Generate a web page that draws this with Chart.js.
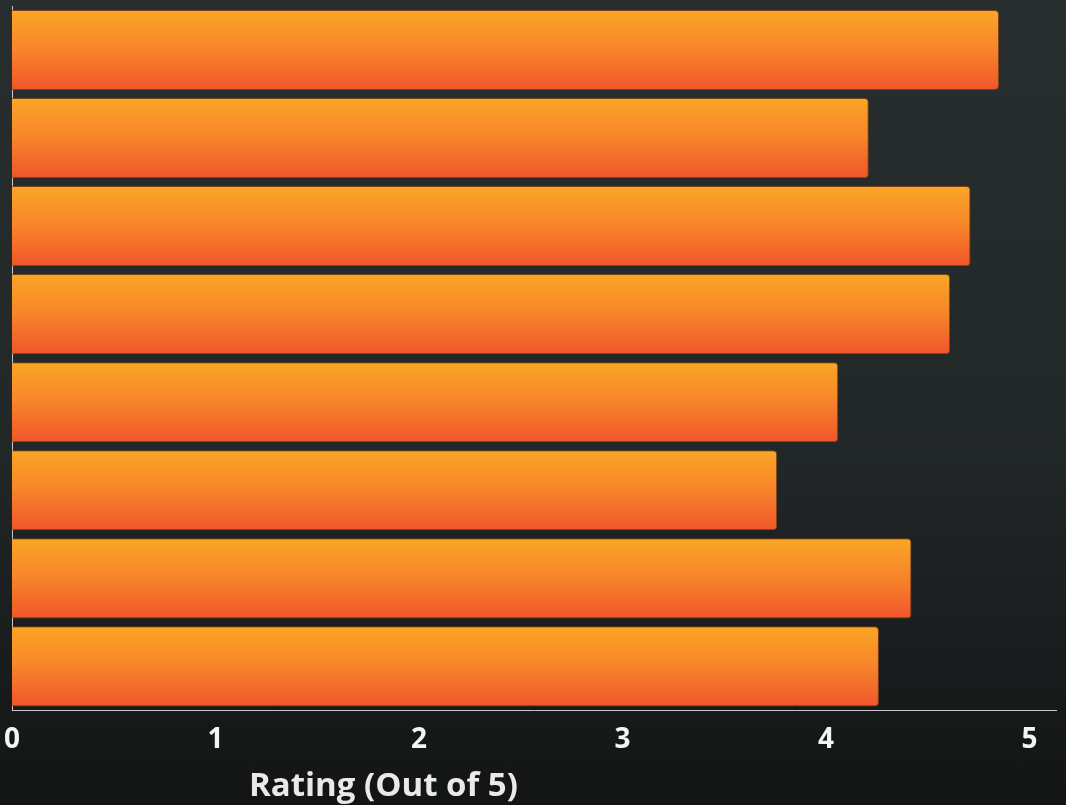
<!DOCTYPE html>
<html>
<head>
<meta charset="utf-8">
<script src="https://cdn.jsdelivr.net/npm/chart.js@4.4.1/dist/chart.umd.min.js"></script>
<style>
  html, body { margin: 0; padding: 0; width: 1066px; height: 805px; overflow: hidden;
    background: linear-gradient(to bottom, #282d2d 0%, #222727 55%, #131515 100%); }
  #wrap { position: relative; width: 1066px; height: 805px; }
  canvas { display: block; }
</style>
</head>
<body>
<div id="wrap"><canvas id="c" width="1066" height="805"></canvas></div>
<script>
const categories = ["Item 1", "Item 2", "Item 3", "Item 4", "Item 5", "Item 6", "Item 7", "Item 8"];
const ratings = [4.85, 4.21, 4.71, 4.61, 4.06, 3.76, 4.42, 4.26];
const xTickValues = [0, 1, 2, 3, 4, 5];
const xAxisTitle = "Rating (Out of 5)";

const BAR_FRACTION = 0.91;

function barGradient(context) {
  const chart = context.chart;
  const yScale = chart.scales.y;
  if (!yScale || !chart.chartArea) return '#f7812a';
  const band = (yScale.bottom - yScale.top) / categories.length;
  const center = yScale.getPixelForValue(context.dataIndex);
  const half = band * BAR_FRACTION / 2;
  const g = chart.ctx.createLinearGradient(0, center - half, 0, center + half);
  g.addColorStop(0, '#fba626');
  g.addColorStop(0.5, '#f7842a');
  g.addColorStop(1, '#f0552b');
  return g;
}

const axisTitlePlugin = {
  id: 'axisTitleLeft',
  afterDraw(chart) {
    const ctx = chart.ctx;
    ctx.save();
    ctx.font = '700 33px "Open Sans"';
    ctx.fillStyle = '#e9e9e9';
    ctx.textAlign = 'left';
    ctx.textBaseline = 'alphabetic';
    ctx.fillText(xAxisTitle, 249, 796);
    ctx.restore();
  }
};

new Chart(document.getElementById('c'), {
  type: 'bar',
  data: {
    labels: categories,
    datasets: [{
      data: ratings,
      backgroundColor: barGradient,
      borderColor: 'rgba(140, 70, 25, 0.85)',
      borderWidth: 1,
      borderRadius: 4,
      borderSkipped: 'start',
      categoryPercentage: 1,
      barPercentage: BAR_FRACTION
    }]
  },
  options: {
    indexAxis: 'y',
    responsive: false,
    animation: false,
    layout: { padding: { left: 12, right: 10, top: 6, bottom: 35 } },
    plugins: { legend: { display: false }, tooltip: { enabled: false } },
    scales: {
      x: {
        type: 'linear',
        min: 0,
        max: 5.13,
        afterBuildTicks(scale) {
          scale.ticks = xTickValues.map(v => ({ value: v }));
        },
        afterFit(scale) { scale.paddingLeft = 0; scale.paddingRight = 0; },
        grid: { display: false, drawTicks: false },
        border: { display: true, color: '#c8c8c8', width: 1 },
        ticks: {
          padding: 13,
          color: '#f4f4f4',
          font: { family: '"Open Sans"', size: 28, weight: '700' }
        }
      },
      y: {
        grid: { display: false, drawTicks: false },
        border: { display: true, color: '#c8c8c8', width: 1 },
        ticks: { display: false },
        afterFit(scale) { scale.width = 0; }
      }
    }
  },
  plugins: [axisTitlePlugin]
});
</script>
</body>
</html>
